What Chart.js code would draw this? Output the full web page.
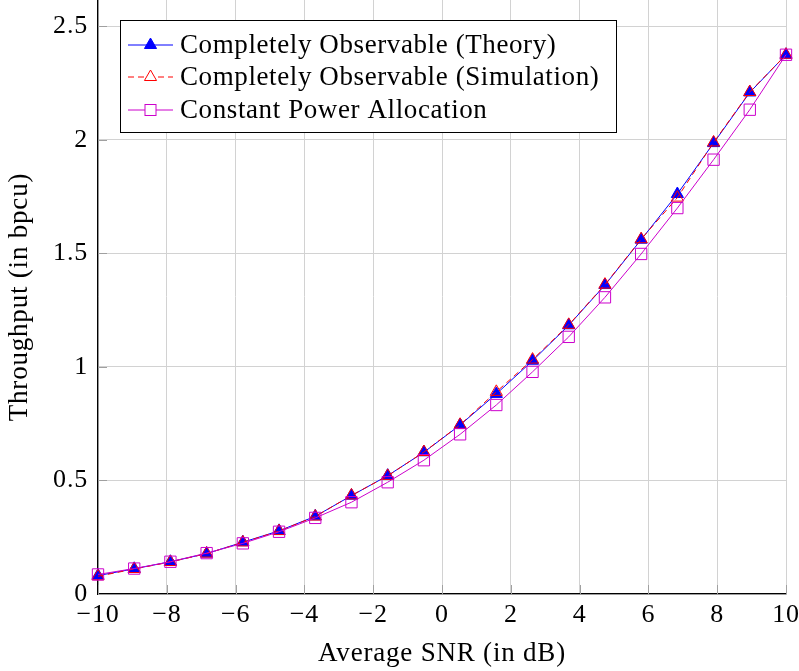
<!DOCTYPE html>
<html>
<head>
<meta charset="utf-8">
<script src="https://cdn.jsdelivr.net/npm/chart.js@4.4.1/dist/chart.umd.min.js"></script>
<style>
    html, body { margin: 0; padding: 0; background: #fff; }
    #wrap { width: 799px; height: 671px; }
</style>
</head>
<body>
<div id="wrap"><canvas id="snrChart" width="799" height="671"></canvas></div>
<script>
// Average SNR (dB) sample points
const snrDb = [-10, -8.947, -7.895, -6.842, -5.789, -4.737, -3.684, -2.632, -1.579, -0.526,
    0.526, 1.579, 2.632, 3.684, 4.737, 5.789, 6.842, 7.895, 8.947, 10];

// Throughput (bpcu)
const theory = [0.081, 0.111, 0.142, 0.178, 0.228, 0.278, 0.342, 0.433, 0.521, 0.624,
    0.744, 0.881, 1.027, 1.183, 1.360, 1.560, 1.761, 1.985, 2.208, 2.374];
const simulation = [0.078, 0.110, 0.141, 0.178, 0.227, 0.277, 0.341, 0.434, 0.520, 0.625,
    0.745, 0.890, 1.032, 1.185, 1.362, 1.562, 1.745, 1.988, 2.210, 2.374];
const constantPower = [0.086, 0.112, 0.142, 0.180, 0.223, 0.274, 0.335, 0.404, 0.492, 0.589,
    0.703, 0.832, 0.978, 1.132, 1.306, 1.497, 1.699, 1.912, 2.132, 2.374];

const seriesLabels = [
    "Completely Observable (Theory)",
    "Completely Observable (Simulation)",
    "Constant Power Allocation",
];

const xTicks = [-10, -8, -6, -4, -2, 0, 2, 4, 6, 8, 10];
const yTicks = [0, 0.5, 1, 1.5, 2, 2.5];

const FONT = "'Liberation Serif', 'Times New Roman', serif";
const BLUE = "#0000ff";
const RED = "#ff0000";
const MAGENTA = "#cc00cc";

function toPoints(ys) {
    return snrDb.map((x, i) => ({ x: x, y: ys[i] }));
}

function fmt(v) {
    return v < 0 ? "\u2212" + Math.abs(v) : String(v);
}

// a bit of letter spacing so the serif text is closer to the wider TeX font
const spacing = {
    id: "spacing",
    beforeLayout(chart) { chart.ctx.letterSpacing = "0.8px"; },
    beforeDraw(chart) { chart.ctx.letterSpacing = "0.8px"; },
};

// small darker tick marks inside the axes
const innerTicks = {
    id: "innerTicks",
    afterDatasetsDraw(chart) {
        const { ctx, chartArea, scales } = chart;
        ctx.save();
        ctx.strokeStyle = "#a0a0a0";
        ctx.lineWidth = 1;
        ctx.beginPath();
        xTicks.forEach((v) => {
            const px = Math.round(scales.x.getPixelForValue(v)) + 0.5;
            ctx.moveTo(px, chartArea.bottom);
            ctx.lineTo(px, chartArea.bottom - 9);
        });
        yTicks.forEach((v) => {
            const py = Math.round(scales.y.getPixelForValue(v)) + 0.5;
            ctx.moveTo(chartArea.left, py);
            ctx.lineTo(chartArea.left + 9, py);
        });
        ctx.stroke();
        ctx.restore();
    },
};

// pgfplots-style legend: line with the marker in the middle
const boxLegend = {
    id: "boxLegend",
    afterDraw(chart) {
        const ctx = chart.ctx;
        const left = 120, top = 20, w = 496, h = 112;
        ctx.save();
        ctx.fillStyle = "#fff";
        ctx.fillRect(left, top, w, h);
        ctx.strokeStyle = "#000";
        ctx.lineWidth = 1;
        ctx.strokeRect(left + 0.5, top + 0.5, w, h);

        const rows = [45, 77, 110];
        const styles = [
            { color: BLUE, dash: [], marker: "tri", fill: true },
            { color: RED, dash: [6, 4], marker: "tri", fill: false },
            { color: MAGENTA, dash: [], marker: "sq", fill: false },
        ];
        rows.forEach((y, i) => {
            const s = styles[i];
            ctx.strokeStyle = s.color;
            ctx.fillStyle = s.color;
            ctx.lineWidth = 1;
            ctx.setLineDash(s.dash);
            ctx.beginPath();
            ctx.moveTo(128, y);
            ctx.lineTo(173, y);
            ctx.stroke();
            ctx.setLineDash([]);
            const cx = 150.5;
            if (s.marker === "tri") {
                const r = 7;
                ctx.beginPath();
                ctx.moveTo(cx, y - r);
                ctx.lineTo(cx + r * 0.866, y + r * 0.5);
                ctx.lineTo(cx - r * 0.866, y + r * 0.5);
                ctx.closePath();
                if (s.fill) ctx.fill();
                else { ctx.fillStyle = "#fff"; ctx.fill(); }
                ctx.stroke();
            } else {
                ctx.fillStyle = "#fff";
                ctx.fillRect(cx - 5.5, y - 5.5, 11, 11);
                ctx.strokeRect(cx - 5.5, y - 5.5, 11, 11);
            }
            ctx.fillStyle = "#000";
            ctx.font = "27px " + FONT;
            ctx.letterSpacing = "0.6px";
            ctx.textBaseline = "middle";
            ctx.textAlign = "left";
            ctx.fillText(seriesLabels[i], 180, y + 1);
        });
        ctx.restore();
    },
};

const ctx = document.getElementById("snrChart").getContext("2d");
new Chart(ctx, {
    type: "line",
    data: {
        datasets: [
            {
                label: seriesLabels[0],
                data: toPoints(theory),
                borderColor: BLUE,
                backgroundColor: BLUE,
                borderWidth: 1,
                pointStyle: "triangle",
                pointRadius: 7,
                pointBorderWidth: 1,
                pointBackgroundColor: BLUE,
                pointBorderColor: BLUE,
                order: 3,
            },
            {
                label: seriesLabels[1],
                data: toPoints(simulation),
                borderColor: RED,
                backgroundColor: "rgba(0,0,0,0)",
                borderWidth: 1,
                borderDash: [6, 4],
                pointStyle: "triangle",
                pointRadius: 7,
                pointBorderWidth: 1,
                pointBackgroundColor: "rgba(0,0,0,0)",
                pointBorderColor: RED,
                order: 2,
            },
            {
                label: seriesLabels[2],
                data: toPoints(constantPower),
                borderColor: MAGENTA,
                backgroundColor: "rgba(0,0,0,0)",
                borderWidth: 1,
                pointStyle: "rect",
                pointRadius: 8,
                pointBorderWidth: 1,
                pointBackgroundColor: "rgba(0,0,0,0)",
                pointBorderColor: MAGENTA,
                order: 1,
            },
        ],
    },
    options: {
        responsive: false,
        animation: false,
        clip: false,
        layout: { autoPadding: false, padding: { left: 0, right: 13, top: 0, bottom: 0 } },
        elements: { line: { tension: 0 } },
        plugins: {
            legend: { display: false },
            tooltip: { enabled: false },
        },
        scales: {
            x: {
                type: "linear",
                min: -10,
                max: 10,
                afterBuildTicks: (scale) => {
                    scale.ticks = xTicks.map((v) => ({ value: v }));
                },
                afterFit: (scale) => {
                    scale.height = 77;
                    scale.paddingLeft = 0;
                    scale.paddingRight = 0;
                },
                ticks: {
                    callback: (v) => fmt(v),
                    font: { family: FONT, size: 26 },
                    color: "#000",
                    padding: 6,
                    maxRotation: 0,
                    autoSkip: false,
                },
                grid: { color: "#d2d2d2", lineWidth: 1, drawTicks: false },
                border: { display: true, color: "#000", width: 1.3 },
                title: {
                    display: true,
                    text: "Average SNR (in dB)",
                    font: { family: FONT, size: 27 },
                    color: "#000",
                    padding: { top: 0, bottom: 1 },
                },
            },
            y: {
                type: "linear",
                min: 0,
                max: 2.615,
                afterBuildTicks: (scale) => {
                    scale.ticks = yTicks.map((v) => ({ value: v }));
                },
                afterFit: (scale) => {
                    scale.width = 98;
                    scale.paddingTop = 0;
                    scale.paddingBottom = 0;
                },
                ticks: {
                    callback: (v) => fmt(v),
                    font: { family: FONT, size: 26 },
                    color: "#000",
                    padding: 10,
                },
                grid: { color: "#d2d2d2", lineWidth: 1, drawTicks: false },
                border: { display: true, color: "#000", width: 1.3 },
                title: {
                    display: true,
                    text: "Throughput (in bpcu)",
                    font: { family: FONT, size: 27 },
                    color: "#000",
                    padding: { top: 4, bottom: 0 },
                },
            },
        },
    },
    plugins: [spacing, innerTicks, boxLegend],
});
</script>
</body>
</html>
